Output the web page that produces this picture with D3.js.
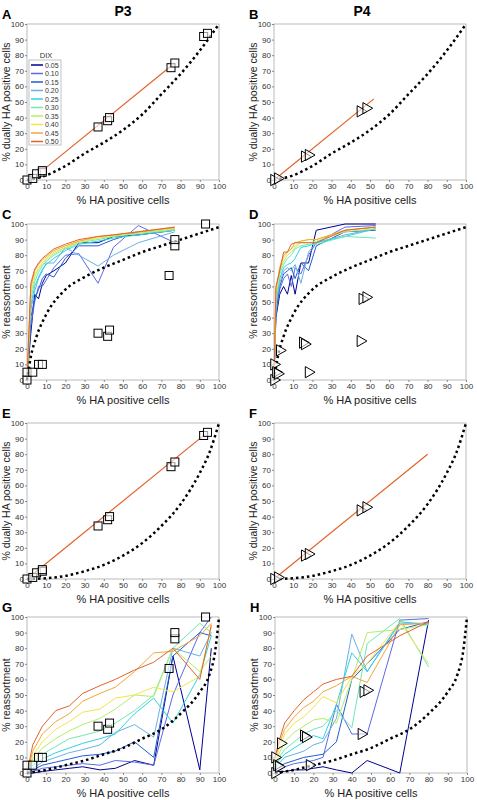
<!DOCTYPE html>
<html><head><meta charset="utf-8">
<script src="https://cdn.jsdelivr.net/npm/d3@7"></script>
<style>body{margin:0;background:#fff;font-family:Helvetica,"Liberation Sans",Arial,sans-serif}</style>
</head><body><svg id="c" width="477" height="800"></svg>
<script>
var dix = ["0.05","0.10","0.15","0.20","0.25","0.30","0.35","0.40","0.45","0.50"];
var dixColors = ["#000090","#5a6ae8","#1f5fd0","#6ab0e6","#2ad4e4","#6ee8b4","#b4ee6a","#f2e44a","#f2a63a","#e4622a"];

// dashed reference curves
var dashA = [[0,0],[10,3],[20,9],[30,17],[40,24],[50,32],[60,42],[70,55],[80,68],[90,83],[100,100]];
var dashC = [[0,0],[2,15],[5,28],[10,42],[20,58],[30,66],[40,72],[50,77],[60,82],[70,86],[80,90],[90,94],[100,98]];
var dashE = [[0,0],[10,0.5],[20,2],[30,5],[40,9],[50,15],[60,23],[70,34],[80,48],[90,68],[95,81],[100,100]];
var dashG = [[0,0],[10,2],[20,5],[30,8],[40,12],[50,16],[60,22],[70,28],[80,38],[90,52],[95,63],[98,78],[100,100]];

// P3 data (squares)
var p3Dual = [[0,0],[3,1],[5,4],[8,5],[8,6],[37,34],[42,38],[43,40],[75,72],[77,75],[92,92],[94,94]];
var p3Reas = [[0,0],[0,5],[3,5],[6,10],[8,10],[37,30],[42,28],[43,32],[74,67],[77,86],[77,90],[93,100]];
// P4 data (triangles)
var p4Dual = [[0,0],[2,1],[16,15],[18,16],[45,44],[48,46]];
var p4Reas = [[0,0],[0,10],[1,5],[2,4],[3,19],[15,24],[16,23],[18,5],[45,25],[46,52],[48,53]];

var lineA = [[8,6],[77,75]];
var lineB = [[0,0],[52,52]];
var lineE = [[0,0],[94,94]];
var lineF = [[0,0],[80,80]];

var xC = [0,2,4,6,8,10,14,20,27,37,45,58,77];
var seriesC = [
 [0,30,55,52,62,67,70,75,88,88,92,93,96],
 [0,35,50,60,60,64,72,80,81,62,85,99,88],
 [0,40,52,58,65,68,66,78,86,86,90,95,97],
 [0,45,57,65,70,75,75,85,80,73,80,88,95],
 [0,48,60,66,71,74,78,83,87,89,91,93,96],
 [0,52,63,69,73,76,80,84,88,90,92,94,96],
 [0,55,66,71,74,77,81,85,88,91,92,94,97],
 [0,58,68,72,75,78,82,85,89,91,93,95,97],
 [0,60,70,74,77,79,83,86,89,92,93,95,98],
 [0,62,71,75,78,80,84,87,90,92,93,95,98]];
var xD = [0,1,3,5,7,9,11,14,18,22,37,53];
var seriesD = [
 [0,40,55,60,55,67,55,75,75,96,100,100],
 [0,42,58,65,68,60,72,68,80,88,98,99],
 [0,45,60,68,70,72,65,75,70,86,95,96],
 [0,48,62,70,72,70,74,62,82,88,93,97],
 [0,50,65,72,74,75,78,85,86,88,92,97],
 [0,52,68,74,78,80,84,86,87,87,92,91],
 [0,54,70,76,80,82,85,88,88,89,95,97],
 [0,56,72,78,82,84,86,89,90,90,96,98],
 [0,58,72,80,82,84,88,89,90,90,96,98],
 [0,60,70,82,82,87,88,88,88,88,96,98]];
var xG = [0,3,8,15,22,29,38,46,56,66,76,90,96];
var seriesG = [
 [0,0,1,2,3,4,2,3,8,5,75,2,80],
 [0,1,3,4,5,6,5,8,7,5,50,90,100],
 [0,2,5,7,9,11,12,14,20,10,75,90,88],
 [0,3,7,10,13,15,18,26,31,23,80,75,90],
 [0,5,9,13,16,19,22,25,38,48,32,63,88],
 [0,7,12,17,22,24,27,32,40,50,80,96,90],
 [0,9,16,22,27,31,35,41,50,49,80,65,75],
 [0,11,20,28,33,39,41,48,50,55,52,62,94],
 [0,14,25,33,38,46,51,55,65,77,78,88,96],
 [0,18,30,40,43,51,56,60,66,71,80,60,95]];
var xH = [0,2,5,10,15,20,25,32,40,48,65,80];
var seriesH = [
 [0,1,1,2,2,3,4,2,0,8,0,98],
 [0,2,4,6,7,8,10,44,25,25,98,99],
 [1,4,6,8,10,11,12,20,60,70,92,97],
 [1,6,10,12,14,18,20,35,89,65,96,96],
 [2,8,12,16,20,24,22,44,77,65,97,95],
 [3,10,15,20,25,28,30,40,29,83,99,68],
 [4,12,20,26,30,34,35,32,60,90,92,95],
 [6,15,25,32,36,42,49,45,62,70,97,70],
 [8,18,28,36,42,46,52,56,62,58,95,96],
 [10,20,32,40,47,52,57,60,62,75,88,97]];

var ticks = d3.range(0, 101, 10);
var svg = d3.select("#c");
svg.append("text").attr("x", 123).attr("y", 16).attr("text-anchor","middle").attr("font-size",14).attr("font-weight","bold").text("P3");
svg.append("text").attr("x", 362).attr("y", 16).attr("text-anchor","middle").attr("font-size",14).attr("font-weight","bold").text("P4");

function panel(o) {
  var x = d3.scaleLinear().domain([0,100]).range([o.left, o.left + 192]);
  var y = d3.scaleLinear().domain([0,100]).range([o.top + 156, o.top]);
  var g = svg.append("g");
  g.append("rect").attr("x", o.left).attr("y", o.top).attr("width", 192).attr("height", 156)
    .attr("fill","none").attr("stroke","#aaa").attr("stroke-width",0.8);
  var ax = g.append("g").attr("transform","translate(0,"+(o.top+156)+")")
    .call(d3.axisBottom(x).tickValues(ticks).tickSize(2).tickPadding(1));
  var ay = g.append("g").attr("transform","translate("+o.left+",0)")
    .call(d3.axisLeft(y).tickValues(ticks).tickSize(2).tickPadding(1));
  [ax, ay].forEach(function(a){
    a.select(".domain").remove();
    a.selectAll("line").attr("stroke","#888");
    a.selectAll("text").attr("font-size",8).attr("fill","#333");
  });
  g.append("text").attr("x", o.left + 96).attr("y", o.top + 180).attr("text-anchor","middle")
    .attr("font-size",11).attr("fill","#222").text("% HA positive cells");
  g.append("text").attr("transform","translate("+(o.left-17)+","+(o.top+78)+") rotate(-90)")
    .attr("text-anchor","middle").attr("font-size",10.5).attr("fill","#222").text(o.ylab);
  g.append("text").attr("x", o.left - 25).attr("y", o.top - 5).attr("font-size",13)
    .attr("font-weight","bold").text(o.letter);

  var line = d3.line().x(function(d){return x(d[0]);}).y(function(d){return y(d[1]);});
  if (o.xs) {
    o.series.forEach(function(s, i) {
      g.append("path").datum(s.map(function(v, j){return [o.xs[j], v];}))
        .attr("d", line).attr("fill","none").attr("stroke", dixColors[i]).attr("stroke-width",1);
    });
  }
  if (o.fit) g.append("path").datum(o.fit).attr("d", line).attr("fill","none")
    .attr("stroke", dixColors[9]).attr("stroke-width",1.2);
  g.append("path").datum(o.dash).attr("d", d3.line().curve(d3.curveMonotoneX)
      .x(function(d){return x(d[0]);}).y(function(d){return y(d[1]);}))
    .attr("fill","none").attr("stroke","#000").attr("stroke-width",2.5).attr("stroke-dasharray","2.5,3");

  var tri = d3.symbol().type(d3.symbolTriangle).size(55);
  o.pts.forEach(function(p) {
    if (o.shape === "sq") {
      g.append("rect").attr("x", x(p[0]) - 4).attr("y", y(p[1]) - 4).attr("width",8).attr("height",8)
        .attr("fill","#fff").attr("fill-opacity",0.6).attr("stroke","#000").attr("stroke-width",1);
    } else {
      g.append("path").attr("d", tri).attr("transform","translate("+x(p[0])+","+y(p[1])+") rotate(90)")
        .attr("fill","#fff").attr("fill-opacity",0.6).attr("stroke","#000").attr("stroke-width",1);
    }
  });
  return g;
}

var dual = "% dually HA positive cells", reas = "% reassortment";
panel({left:27, top:24, letter:"A", ylab:dual, dash:dashA, pts:p3Dual, shape:"sq", fit:lineA});
panel({left:274, top:24, letter:"B", ylab:dual, dash:dashA, pts:p4Dual, shape:"tri", fit:lineB});
panel({left:27, top:224, letter:"C", ylab:reas, dash:dashC, pts:p3Reas, shape:"sq", xs:xC, series:seriesC});
panel({left:274, top:224, letter:"D", ylab:reas, dash:dashC, pts:p4Reas, shape:"tri", xs:xD, series:seriesD});
panel({left:27, top:423, letter:"E", ylab:dual, dash:dashE, pts:p3Dual, shape:"sq", fit:lineE});
panel({left:274, top:423, letter:"F", ylab:dual, dash:dashE, pts:p4Dual, shape:"tri", fit:lineF});
panel({left:27, top:617, letter:"G", ylab:reas, dash:dashG, pts:p3Reas, shape:"sq", xs:xG, series:seriesG});
panel({left:275, top:617, letter:"H", ylab:reas, dash:dashG, pts:p4Reas, shape:"tri", xs:xH, series:seriesH});

// legend in panel A
var lg = svg.append("g");
lg.append("text").attr("x", 46).attr("y", 58).attr("text-anchor","middle").attr("font-size",7.5).attr("fill","#333").text("DIX");
lg.append("rect").attr("x", 29).attr("y", 60).attr("width", 32).attr("height", 85).attr("fill","#fff").attr("stroke","#999").attr("stroke-width",0.6);
dix.forEach(function(d, i) {
  var yy = 65 + i * 8.5;
  lg.append("line").attr("x1", 31).attr("x2", 43).attr("y1", yy).attr("y2", yy).attr("stroke", dixColors[i]).attr("stroke-width", 1.5);
  lg.append("text").attr("x", 45).attr("y", yy + 2.5).attr("font-size",7).attr("fill","#333").text(d);
});
</script></body></html>
